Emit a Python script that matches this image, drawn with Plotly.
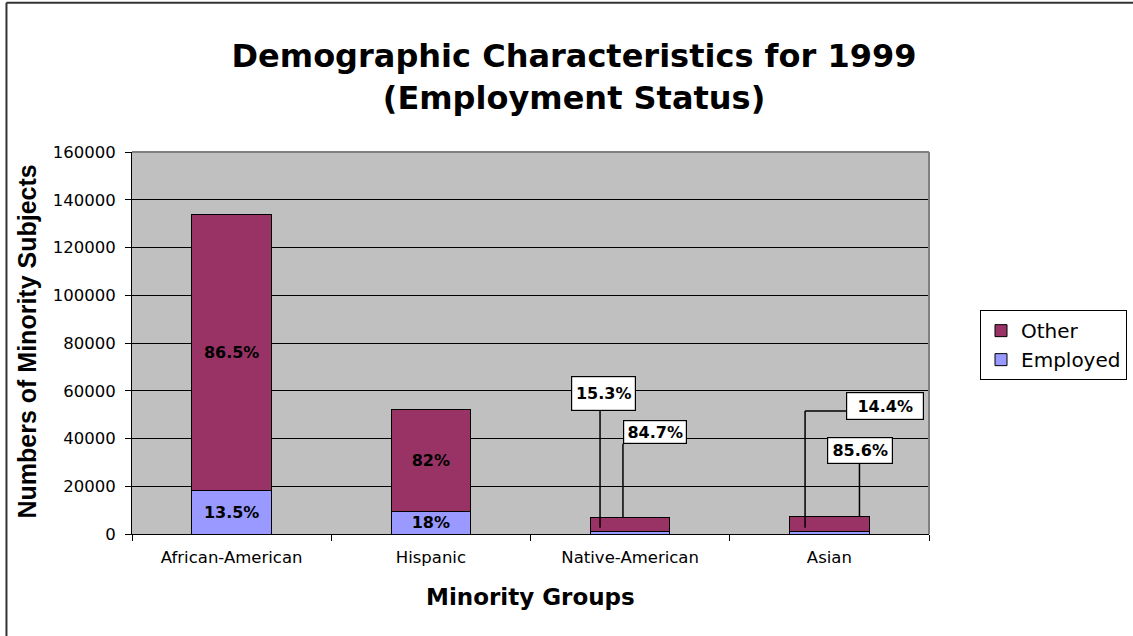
import plotly.graph_objects as go

# --- data -------------------------------------------------------------
groups = ["African-American", "Hispanic", "Native-American", "Asian"]
totals = [134000, 52300, 7000, 7500]          # all minority subjects per group
employed_pct = [13.5, 18.0, 15.3, 14.4]       # share employed
other_pct = [86.5, 82.0, 84.7, 85.6]          # share in "other" status
y_ticks = [0, 20000, 40000, 60000, 80000, 100000, 120000, 140000, 160000]

employed = [t * p / 100 for t, p in zip(totals, employed_pct)]
other = [t * p / 100 for t, p in zip(totals, other_pct)]


def pct_text(p):
    return f"{p:g}%"


# groups whose bars are tall enough to carry their labels inside
inside = [True, True, False, False]

C_OTHER = "#993366"
C_EMPLOYED = "#9999FF"
LABEL_FONT = dict(family="DejaVu Sans", size=16, color="black", weight="bold")
TEXT_FONT = "DejaVu Sans"

fig = go.Figure()
fig.add_trace(go.Bar(
    x=groups, y=employed, name="Employed", legendgroup="emp",
    marker=dict(color=C_EMPLOYED, line=dict(color="black", width=1)),
    text=[pct_text(p) if show else "" for p, show in zip(employed_pct, inside)],
    textposition="inside", insidetextanchor="middle", textangle=0,
    constraintext="none", textfont=LABEL_FONT, hoverinfo="skip",
))
fig.add_trace(go.Bar(
    x=groups, y=other, base=employed, name="Other", legendgroup="oth",
    marker=dict(color=C_OTHER, line=dict(color="black", width=1)),
    text=[pct_text(p) if show else "" for p, show in zip(other_pct, inside)],
    textposition="inside", insidetextanchor="middle", textangle=0,
    constraintext="none", textfont=LABEL_FONT, hoverinfo="skip",
))

# --- callout boxes with leader lines for the two small bars -------------
shapes = []
annotations = []


def callout(text, bx, by, w, h, path):
    annotations.append(dict(
        x=bx, y=by, xref="x", yref="y", text=text, showarrow=False,
        xanchor="center", yanchor="middle", width=w, height=h,
        bgcolor="white", bordercolor="black", borderwidth=1.2, borderpad=0,
        font=LABEL_FONT, valign="middle",
    ))
    for (x0, y0), (x1, y1) in zip(path[:-1], path[1:]):
        shapes.append(dict(type="line", xref="x", yref="y",
                           x0=x0, y0=y0, x1=x1, y1=y1,
                           line=dict(color="black", width=1.5)))


LEAD = 1500  # leader lines stop just above the employed segment

# Native-American
callout(pct_text(employed_pct[2]), 1.866, 58850, 63, 33,
        [(1.849, 51600), (1.849, employed[2] + LEAD)])
callout(pct_text(other_pct[2]), 2.125, 42720, 62, 22,
        [(1.964, 37800), (1.964, totals[2])])
# Asian
callout(pct_text(employed_pct[3]), 3.279, 53610, 76, 26,
        [(3.083, 51520), (2.878, 51520), (2.878, employed[3] + LEAD)])
callout(pct_text(other_pct[3]), 3.156, 34970, 64, 25,
        [(3.151, 29400), (3.151, totals[3])])

# axis titles
annotations.append(dict(
    text="Minority Groups", xref="paper", yref="paper", x=0.4994, y=-0.165,
    showarrow=False, xanchor="center", yanchor="middle",
    font=dict(family=TEXT_FONT, size=23, color="black", weight="bold"),
))
annotations.append(dict(
    text="Numbers of Minority Subjects", xref="paper", yref="paper",
    x=-0.1317, y=0.504, showarrow=False, textangle=-90,
    xanchor="center", yanchor="middle",
    font=dict(family="Liberation Sans, Arial", size=25, color="black",
              weight="bold"),
))

# plot-area frame (grey on top and right) and the outer chart frame,
# whose left and top edges are the only ones inside the page
shapes += [
    dict(type="line", xref="paper", yref="paper", x0=0, y0=1, x1=1, y1=1,
         line=dict(color="#808080", width=2)),
    dict(type="line", xref="paper", yref="paper", x0=1, y0=0, x1=1, y1=1,
         line=dict(color="#808080", width=2)),
    dict(type="line", xref="paper", yref="paper",
         x0=-0.1575, y0=-0.3, x1=-0.1575, y1=1.391,
         line=dict(color="#333333", width=2)),
    dict(type="line", xref="paper", yref="paper",
         x0=-0.1575, y0=1.391, x1=1.4, y1=1.391,
         line=dict(color="#333333", width=2)),
]

fig.update_layout(
    width=1133, height=636, autosize=False,
    margin=dict(l=132, r=204, t=152, b=102, autoexpand=False),
    paper_bgcolor="white", plot_bgcolor="#C0C0C0",
    barmode="stack", bargap=0.6,
    uniformtext=dict(minsize=16, mode="show"),
    title=dict(
        text="Demographic Characteristics for 1999<br>(Employment Status)",
        x=574 / 1133, xref="container", xanchor="center",
        y=1 - 67 / 636, yref="container", yanchor="middle",
        font=dict(family=TEXT_FONT, size=32, color="black", weight="bold"),
    ),
    font=dict(family=TEXT_FONT, color="black"),
    showlegend=True,
    legend=dict(
        x=1.064, y=0.586, xanchor="left", yanchor="top",
        traceorder="reversed", tracegroupgap=4,
        bordercolor="black", borderwidth=1, bgcolor="white",
        font=dict(family=TEXT_FONT, size=20, color="black"),
    ),
    xaxis=dict(
        type="category", showgrid=False, showline=True, linecolor="black",
        linewidth=1, ticks="outside", tickson="boundaries", ticklen=6,
        tickcolor="black", tickfont=dict(family=TEXT_FONT, size=16.5),
        ticklabelstandoff=8,
    ),
    yaxis=dict(
        range=[0, 160000], tickvals=y_ticks,
        ticktext=[str(v) for v in y_ticks],
        showgrid=True, gridcolor="black", gridwidth=1, zeroline=False,
        showline=True, linecolor="black", linewidth=1,
        ticks="outside", ticklen=6, tickcolor="black",
        tickfont=dict(family=TEXT_FONT, size=16.5), ticklabelstandoff=6,
    ),
    shapes=shapes, annotations=annotations,
)

fig.write_html("out.html", config={"displayModeBar": False})
